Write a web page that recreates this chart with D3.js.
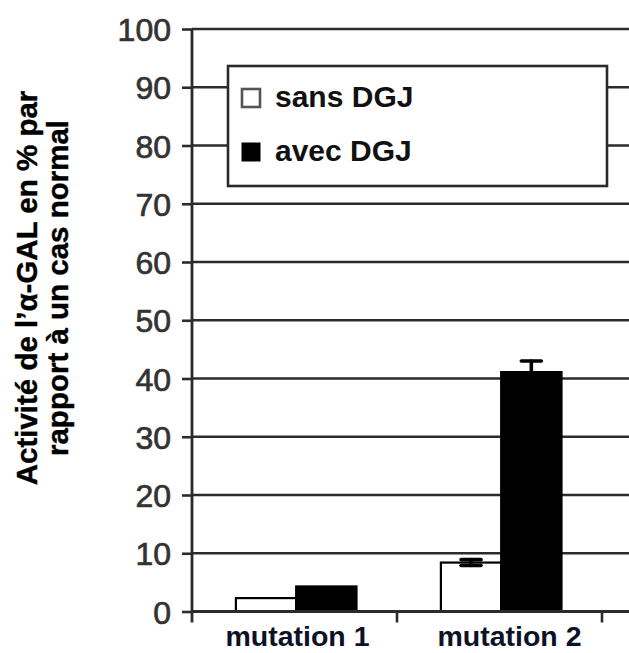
<!DOCTYPE html>
<html>
<head>
<meta charset="utf-8">
<script src="https://cdn.jsdelivr.net/npm/d3@7/dist/d3.min.js"></script>
<style>
body {margin:0; background:#fff;}
svg {display:block; font-family:'Liberation Sans', Arial, sans-serif;}
.tick_label {font-size:32px; fill:#333; stroke:#333; stroke-width:0.7px;}
.axis_title {font-size:29.5px; font-weight:bold; fill:#000; stroke:#000; stroke-width:0.4px;}
.cat_label {font-size:28.5px; font-weight:bold; fill:#0d1226;}
.legend_label {font-size:30px; font-weight:bold; fill:#111;}
</style>
</head>
<body>
<div id="chart"></div>
<script>
// data
var categories=['mutation 1','mutation 2'];
var series=['sans DGJ','avec DGJ'];
var values_sans=[2.3,8.4];
var values_avec=[4.3,41.1];
var errors_sans=[0,0.5];
var errors_avec=[0,1.9];
var y_ticks=[0,10,20,30,40,50,60,70,80,90,100];
var title_lines=['Activité de l\u2019\u03b1-GAL en % par','rapport à un cas normal'];

var W=629, H=653;
var svg=d3.select('#chart').append('svg').attr('width',W).attr('height',H);

var x_left=192, x_right=629;
var yScale=d3.scaleLinear().domain([0,100]).range([611.5,29]);
var xScale=d3.scaleBand().domain(categories).range([x_left,602]).paddingInner(0).paddingOuter(0);
var bw=xScale.bandwidth();
var xSub=d3.scaleBand().domain(series).range([0,bw]).paddingInner(0).paddingOuter(0.7).align(0.52);

var line_col='#2b2b2b';

// gridlines
svg.append('g').selectAll('line').data(y_ticks).enter().append('line')
	.attr('x1',x_left).attr('x2',x_right)
	.attr('y1',function(d) {return yScale(d);})
	.attr('y2',function(d) {return yScale(d);})
	.attr('stroke',line_col).attr('stroke-width',2.6);

// y axis
var yAxis=d3.axisLeft(yScale).tickValues(y_ticks).tickSize(10).tickPadding(11).tickSizeOuter(0);
var gy=svg.append('g').attr('transform','translate('+x_left+',0)').call(yAxis);
gy.select('.domain').remove();
gy.selectAll('line').attr('stroke',line_col).attr('stroke-width',2.6);
gy.selectAll('text').attr('class','tick_label').attr('font-size',null).attr('font-family',null).attr('fill',null)
	.attr('dy','0.36em');
svg.append('line')
	.attr('x1',x_left).attr('x2',x_left)
	.attr('y1',yScale(100)).attr('y2',yScale(0)+11)
	.attr('stroke',line_col).attr('stroke-width',2.8);

// x axis ticks at band edges
svg.append('g').selectAll('line').data(categories).enter().append('line')
	.attr('x1',function(d) {return xScale(d)+bw;})
	.attr('x2',function(d) {return xScale(d)+bw;})
	.attr('y1',yScale(0)).attr('y2',yScale(0)+11)
	.attr('stroke',line_col).attr('stroke-width',2.6);

// legend (drawn over the gridlines)
var lg=svg.append('g').attr('transform','translate(228,66)');
lg.append('rect').attr('width',379).attr('height',120)
	.attr('fill','#fff').attr('stroke',line_col).attr('stroke-width',2.6);
var legend_fill=['#fff','#000'];
var li=lg.selectAll('.item').data(series).enter().append('g')
	.attr('transform',function(d,i) {return 'translate(0,'+(i*54)+')';});
li.append('rect').attr('x',14).attr('y',23).attr('width',18).attr('height',18)
	.attr('fill',function(d,i) {return legend_fill[i];})
	.attr('stroke',function(d,i) {return i==0 ? '#555' : '#000';})
	.attr('stroke-width',function(d,i) {return i==0 ? 2.6 : 1;});
li.append('text').attr('class','legend_label').attr('x',47).attr('y',41)
	.text(function(d) {return d;});

// bars
var rows=categories.map(function(c,i) {
	return [
		{cat:c,s:series[0],v:values_sans[i],e:errors_sans[i],fill:'#fff'},
		{cat:c,s:series[1],v:values_avec[i],e:errors_avec[i],fill:'#000'}
	];
});
var bars=[].concat.apply([],rows);
svg.append('g').selectAll('rect').data(bars).enter().append('rect')
	.attr('x',function(d) {return xScale(d.cat)+xSub(d.s);})
	.attr('y',function(d) {return yScale(d.v);})
	.attr('width',xSub.bandwidth())
	.attr('height',function(d) {return yScale(0)-yScale(d.v);})
	.attr('fill',function(d) {return d.fill;})
	.attr('stroke','#000').attr('stroke-width',2.2);

// error bars
var eb=svg.append('g').selectAll('g').data(bars.filter(function(d) {return d.e>0;})).enter().append('g')
	.attr('stroke','#000').attr('stroke-width',3.6).attr('stroke-linecap','round');
function cx(d) {return xScale(d.cat)+xSub(d.s)+xSub.bandwidth()/2;}
eb.append('line')
	.attr('x1',cx).attr('x2',cx)
	.attr('y1',function(d) {return yScale(d.v-d.e);})
	.attr('y2',function(d) {return yScale(d.v+d.e);});
[-1,1].forEach(function(sg) {
	eb.append('line')
		.attr('x1',function(d) {return cx(d)-10;})
		.attr('x2',function(d) {return cx(d)+10;})
		.attr('y1',function(d) {return yScale(d.v+sg*d.e);})
		.attr('y2',function(d) {return yScale(d.v+sg*d.e);});
});

// bottom axis line
svg.append('line')
	.attr('x1',x_left).attr('x2',x_right)
	.attr('y1',yScale(0)).attr('y2',yScale(0))
	.attr('stroke',line_col).attr('stroke-width',2.8);

// category labels
svg.append('g').selectAll('text').data(categories).enter().append('text')
	.attr('class','cat_label')
	.attr('x',function(d,i) {return xScale(d)+bw/2+(i==0 ? 3 : 10);})
	.attr('y',646)
	.attr('text-anchor','middle')
	.text(function(d) {return d;});

// y axis title
var tt=svg.append('text').attr('class','axis_title')
	.attr('transform','translate(0,288) rotate(-90)')
	.attr('text-anchor','middle');
tt.selectAll('tspan').data(title_lines).enter().append('tspan')
	.attr('x',0).attr('y',function(d,i) {return 37+i*31;})
	.text(function(d) {return d;});
</script>
</body>
</html>
